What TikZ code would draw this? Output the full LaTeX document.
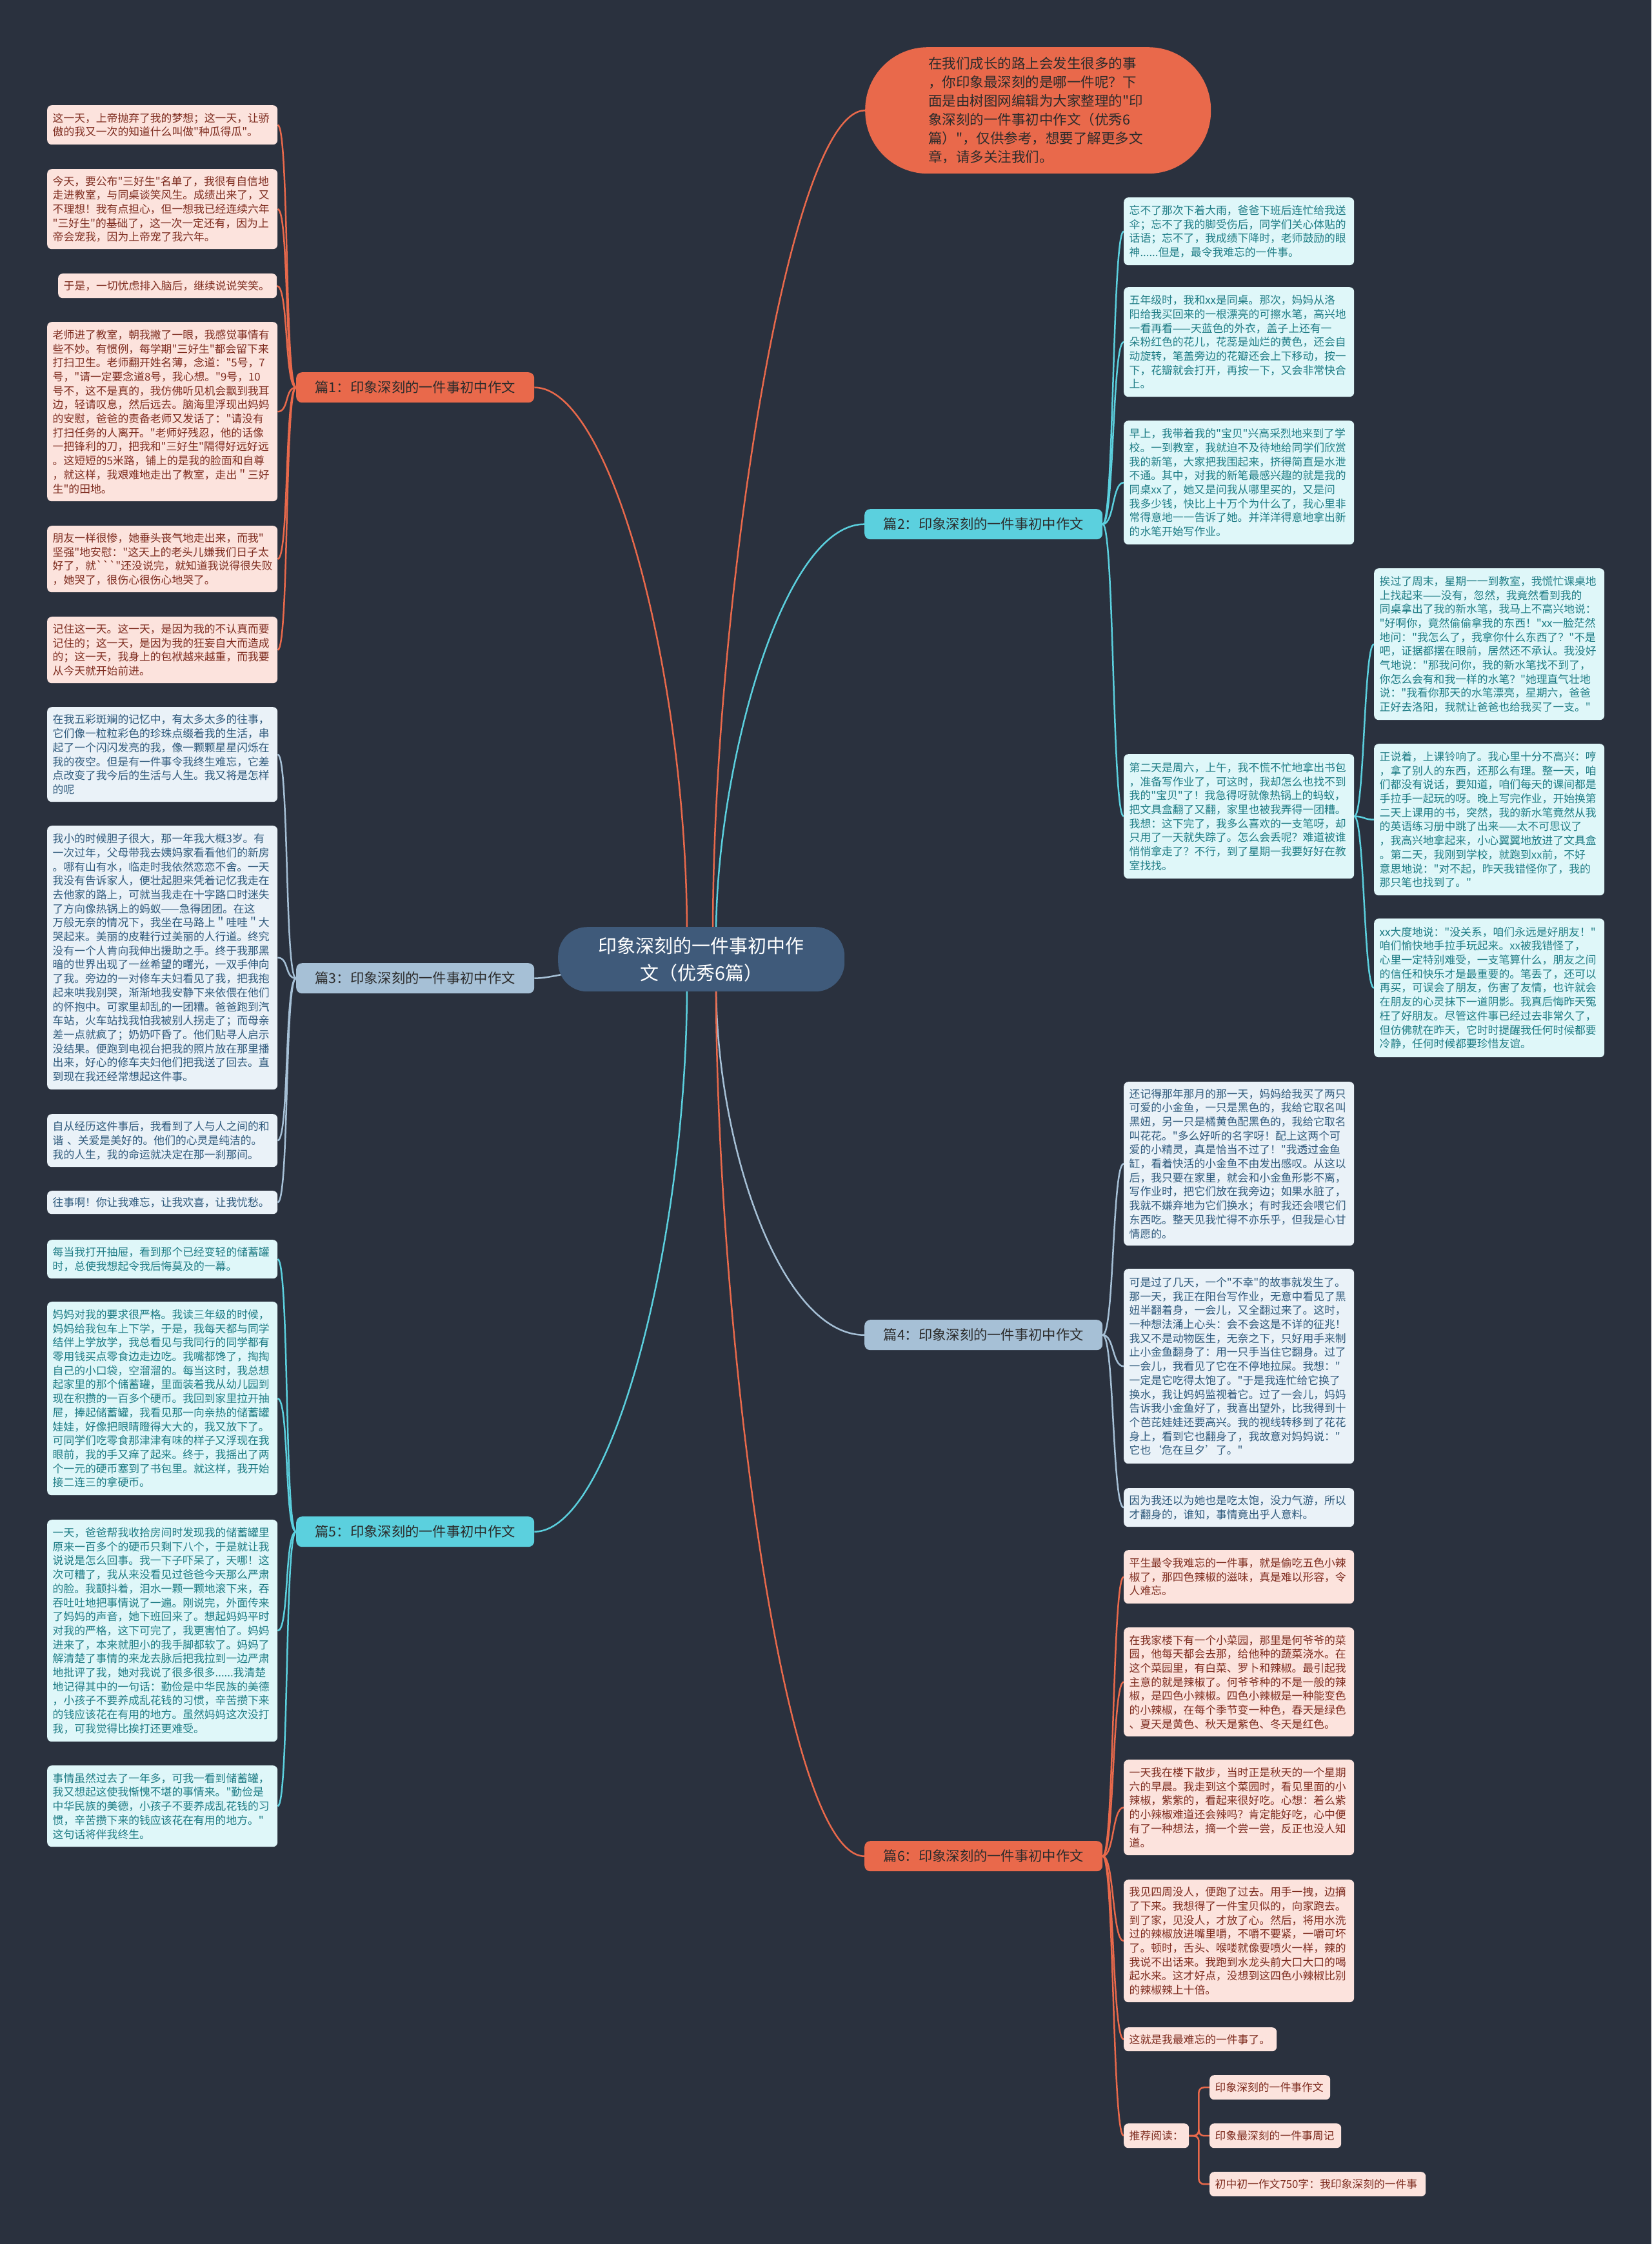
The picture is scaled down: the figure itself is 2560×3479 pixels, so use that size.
\documentclass[tikz,border=0pt]{standalone}
\usepackage{fontspec}
\setmainfont{Noto Sans CJK SC}[Ligatures=TeXOff]
\usetikzlibrary{calc}
\pgfdeclarelayer{back}
\pgfdeclarelayer{lines}
\pgfsetlayers{back,lines,main}
\definecolor{bgc}{HTML}{2A313E}
\definecolor{orn}{HTML}{E9694B}
\definecolor{lofill}{HTML}{FCE3DD}
\definecolor{lotext}{HTML}{7E2C1F}
\definecolor{cyn}{HTML}{5BD0DE}
\definecolor{lcfill}{HTML}{DFF7F9}
\definecolor{lctext}{HTML}{1E7C85}
\definecolor{stl}{HTML}{A6C0D6}
\definecolor{lbfill}{HTML}{EAF2F8}
\definecolor{lbtext}{HTML}{2F5A7C}
\definecolor{ctrfill}{HTML}{3F5A7A}
\definecolor{labtext}{HTML}{2B2B2B}
\tikzset{
  leaf/.style={anchor=north west, rounded corners=7pt, inner xsep=8.5pt, inner ysep=3pt, align=left, font=\fontsize{16.8}{21.7}\selectfont},
  lo/.style={leaf, fill=lofill, text=lotext},
  lb/.style={leaf, fill=lbfill, text=lbtext},
  lc/.style={leaf, fill=lcfill, text=lctext},
  std/.style={text width=340pt},
  lab/.style={anchor=north west, rounded corners=9pt, minimum width=369pt, minimum height=47pt, inner sep=0pt, font=\fontsize{21.3}{25}\selectfont, text=labtext},
  con/.style={line width=2.5pt},
}
\begin{document}
\begin{tikzpicture}[x=1pt,y=-1pt]
\begin{pgfonlayer}{back}
\fill[bgc] (0,0) rectangle (2560,3479);
\end{pgfonlayer}
\useasboundingbox (0,0) rectangle (2560,3479);

% center and intro
\node[anchor=north west, minimum width=444pt, minimum height=100pt, rounded corners=45pt, fill=ctrfill, text=white, align=center, inner sep=0pt, font=\fontsize{29}{42}\selectfont] (ctr) at (865,1437) {印象深刻的一件事初中作\\文（优秀6篇）};
\node[anchor=north west, minimum height=196pt, rounded corners=97pt, fill=orn, text=labtext, align=left, text width=340pt, inner xsep=98pt, inner ysep=0pt, font=\fontsize{21.5}{29}\selectfont] (intro) at (1341,73) {在我们成长的路上会发生很多的事\\，你印象最深刻的是哪一件呢？下\\面是由树图网编辑为大家整理的"印\\象深刻的一件事初中作文（优秀6\\篇）"，仅供参考，想要了解更多文\\章，请多关注我们。};

% branch labels
\node[lab, fill=orn] (p1) at (459,577) {篇1：印象深刻的一件事初中作文};
\node[lab, fill=cyn] (p2) at (1340,789) {篇2：印象深刻的一件事初中作文};
\node[lab, fill=stl] (p3) at (459,1493) {篇3：印象深刻的一件事初中作文};
\node[lab, fill=stl] (p4) at (1340,2046) {篇4：印象深刻的一件事初中作文};
\node[lab, fill=cyn] (p5) at (459,2351) {篇5：印象深刻的一件事初中作文};
\node[lab, fill=orn] (p6) at (1340,2854) {篇6：印象深刻的一件事初中作文};

% pian 1 leaves
\node[lo, std, minimum height=61pt] (a1) at (73,163) {这一天，上帝抛弃了我的梦想；这一天，让骄\\傲的我又一次的知道什么叫做"种瓜得瓜"。};
\node[lo, std, minimum height=124pt] (a2) at (73,262) {今天，要公布"三好生"名单了，我很有自信地\\走进教室，与同桌谈笑风生。成绩出来了，又\\不理想！我有点担心，但一想我已经连续六年\\"三好生"的基础了，这一次一定还有，因为上\\帝会宠我，因为上帝宠了我六年。};
\node[lo, text width=322pt, minimum height=38pt] (a3) at (90,424) {于是，一切忧虑排入脑后，继续说说笑笑。};
\node[lo, std, minimum height=278pt] (a4) at (73,499) {老师进了教室，朝我撇了一眼，我感觉事情有\\些不妙。有惯例，每学期"三好生"都会留下来\\打扫卫生。老师翻开姓名薄，念道："5号，7\\号，"请一定要念道8号，我心想。"9号，10\\号不，这不是真的，我仿佛听见机会飘到我耳\\边，轻请叹息，然后远去。脑海里浮现出妈妈\\的安慰，爸爸的责备老师又发话了："请没有\\打扫任务的人离开。"老师好残忍，他的话像\\一把锋利的刀，把我和"三好生"隔得好远好远\\。这短短的5米路，铺上的是我的脸面和自尊\\，就这样，我艰难地走出了教室，走出＂三好\\生"的田地。};
\node[lo, std, minimum height=103pt] (a5) at (73,815) {朋友一样很惨，她垂头丧气地走出来，而我"\\坚强"地安慰："这天上的老头儿嫌我们日子太\\好了，就```"还没说完，就知道我说得很失败\\，她哭了，很伤心很伤心地哭了。};
\node[lo, std, minimum height=103pt] (a6) at (73,956) {记住这一天。这一天，是因为我的不认真而要\\记住的；这一天，是因为我的狂妄自大而造成\\的；这一天，我身上的包袱越来越重，而我要\\从今天就开始前进。};

% pian 3 leaves
\node[lb, std, minimum height=147pt] (b1) at (73,1096) {在我五彩斑斓的记忆中，有太多太多的往事，\\它们像一粒粒彩色的珍珠点缀着我的生活，串\\起了一个闪闪发亮的我，像一颗颗星星闪烁在\\我的夜空。但是有一件事令我终生难忘，它差\\点改变了我今后的生活与人生。我又将是怎样\\的呢};
\node[lb, std, minimum height=409pt] (b2) at (73,1280) {我小的时候胆子很大，那一年我大概3岁。有\\一次过年，父母带我去姨妈家看看他们的新房\\。哪有山有水，临走时我依然恋恋不舍。一天\\我没有告诉家人，便壮起胆来凭着记忆我走在\\去他家的路上，可就当我走在十字路口时迷失\\了方向像热锅上的蚂蚁——急得团团。在这\\万般无奈的情况下，我坐在马路上＂哇哇＂大\\哭起来。美丽的皮鞋行过美丽的人行道。终究\\没有一个人肯向我伸出援助之手。终于我那黑\\暗的世界出现了一丝希望的曙光，一双手伸向\\了我。旁边的一对修车夫妇看见了我，把我抱\\起来哄我别哭，渐渐地我安静下来依偎在他们\\的怀抱中。可家里却乱的一团糟。爸爸跑到汽\\车站，火车站找我怕我被别人拐走了；而母亲\\差一点就疯了；奶奶吓昏了。他们贴寻人启示\\没结果。便跑到电视台把我的照片放在那里播\\出来，好心的修车夫妇他们把我送了回去。直\\到现在我还经常想起这件事。};
\node[lb, std, minimum height=82pt] (b3) at (73,1727) {自从经历这件事后，我看到了人与人之间的和\\谐 、关爱是美好的。他们的心灵是纯洁的。\\我的人生，我的命运就决定在那一刹那间。};
\node[lb, std, minimum height=36pt] (b4) at (73,1846) {往事啊！你让我难忘，让我欢喜，让我忧愁。};

% pian 5 leaves
\node[lc, std, minimum height=60pt] (c1) at (73,1922) {每当我打开抽屉，看到那个已经变轻的储蓄罐\\时，总使我想起令我后悔莫及的一幕。};
\node[lc, std, minimum height=300pt] (c2) at (73,2018) {妈妈对我的要求很严格。我读三年级的时候，\\妈妈给我包车上下学，于是，我每天都与同学\\结伴上学放学，我总看见与我同行的同学都有\\零用钱买点零食边走边吃。我嘴都馋了，掏掏\\自己的小口袋，空溜溜的。每当这时，我总想\\起家里的那个储蓄罐，里面装着我从幼儿园到\\现在积攒的一百多个硬币。我回到家里拉开抽\\屉，捧起储蓄罐，我看见那一向亲热的储蓄罐\\娃娃，好像把眼睛瞪得大大的，我又放下了。\\可同学们吃零食那津津有味的样子又浮现在我\\眼前，我的手又痒了起来。终于，我摇出了两\\个一元的硬币塞到了书包里。就这样，我开始\\接二连三的拿硬币。};
\node[lc, std, minimum height=344pt] (c3) at (73,2356) {一天，爸爸帮我收拾房间时发现我的储蓄罐里\\原来一百多个的硬币只剩下八个，于是就让我\\说说是怎么回事。我一下子吓呆了，天哪！这\\次可糟了，我从来没看见过爸爸今天那么严肃\\的脸。我颤抖着，泪水一颗一颗地滚下来，吞\\吞吐吐地把事情说了一遍。刚说完，外面传来\\了妈妈的声音，她下班回来了。想起妈妈平时\\对我的严格，这下可完了，我更害怕了。妈妈\\进来了，本来就胆小的我手脚都软了。妈妈了\\解清楚了事情的来龙去脉后把我拉到一边严肃\\地批评了我，她对我说了很多很多......我清楚\\地记得其中的一句话：勤俭是中华民族的美德\\，小孩子不要养成乱花钱的习惯，辛苦攒下来\\的钱应该花在有用的地方。虽然妈妈这次没打\\我，可我觉得比挨打还更难受。};
\node[lc, std, minimum height=126pt] (c4) at (73,2737) {事情虽然过去了一年多，可我一看到储蓄罐，\\我又想起这使我惭愧不堪的事情来。"勤俭是\\中华民族的美德，小孩子不要养成乱花钱的习\\惯，辛苦攒下来的钱应该花在有用的地方。"\\这句话将伴我终生。};

% pian 2 leaves
\node[lc, std, minimum height=105pt] (d1) at (1742,306) {忘不了那次下着大雨，爸爸下班后连忙给我送\\伞；忘不了我的脚受伤后，同学们关心体贴的\\话语；忘不了，我成绩下降时，老师鼓励的眼\\神......但是，最令我难忘的一件事。};
\node[lc, std, minimum height=170pt] (d2) at (1742,445) {五年级时，我和xx是同桌。那次，妈妈从洛\\阳给我买回来的一根漂亮的可擦水笔，高兴地\\一看再看——天蓝色的外衣，盖子上还有一\\朵粉红色的花儿，花蕊是灿烂的黄色，还会自\\动旋转，笔盖旁边的花瓣还会上下移动，按一\\下，花瓣就会打开，再按一下，又会非常快合\\上。};
\node[lc, std, minimum height=192pt] (d3) at (1742,652) {早上，我带着我的"宝贝"兴高采烈地来到了学\\校。一到教室，我就迫不及待地给同学们欣赏\\我的新笔，大家把我围起来，挤得简直是水泄\\不通。其中，对我的新笔最感兴趣的就是我的\\同桌xx了，她又是问我从哪里买的，又是问\\我多少钱，快比上十万个为什么了，我心里非\\常得意地一一告诉了她。并洋洋得意地拿出新\\的水笔开始写作业。};
\node[lc, std, minimum height=193pt] (d4) at (1742,1169) {第二天是周六，上午，我不慌不忙地拿出书包\\，准备写作业了，可这时，我却怎么也找不到\\我的"宝贝"了！我急得呀就像热锅上的蚂蚁，\\把文具盒翻了又翻，家里也被我弄得一团糟。\\我想：这下完了，我多么喜欢的一支笔呀，却\\只用了一天就失踪了。怎么会丢呢？难道被谁\\悄悄拿走了？不行，到了星期一我要好好在教\\室找找。};

% far right leaves
\node[lc, std, minimum height=235pt] (e1) at (2130,881) {挨过了周末，星期一一到教室，我慌忙课桌地\\上找起来——没有，忽然，我竟然看到我的\\同桌拿出了我的新水笔，我马上不高兴地说：\\"好啊你，竟然偷偷拿我的东西！"xx一脸茫然\\地问："我怎么了，我拿你什么东西了？"不是\\吧，证据都摆在眼前，居然还不承认。我没好\\气地说："那我问你，我的新水笔找不到了，\\你怎么会有和我一样的水笔？"她理直气壮地\\说："我看你那天的水笔漂亮，星期六，爸爸\\正好去洛阳，我就让爸爸也给我买了一支。"};
\node[lc, std, minimum height=235pt] (e2) at (2130,1153) {正说着，上课铃响了。我心里十分不高兴：哼\\，拿了别人的东西，还那么有理。整一天，咱\\们都没有说话，要知道，咱们每天的课间都是\\手拉手一起玩的呀。晚上写完作业，开始换第\\二天上课用的书，突然，我的新水笔竟然从我\\的英语练习册中跳了出来——太不可思议了\\，我高兴地拿起来，小心翼翼地放进了文具盒\\。第二天，我刚到学校，就跑到xx前，不好\\意思地说："对不起，昨天我错怪你了，我的\\那只笔也找到了。"};
\node[lc, std, minimum height=215pt] (e3) at (2130,1424) {xx大度地说："没关系，咱们永远是好朋友！"\\咱们愉快地手拉手玩起来。xx被我错怪了，\\心里一定特别难受，一支笔算什么，朋友之间\\的信任和快乐才是最重要的。笔丢了，还可以\\再买，可误会了朋友，伤害了友情，也许就会\\在朋友的心灵抹下一道阴影。我真后悔昨天冤\\枉了好朋友。尽管这件事已经过去非常久了，\\但仿佛就在昨天，它时时提醒我任何时候都要\\冷静，任何时候都要珍惜友谊。};

% pian 4 leaves
\node[lb, std, minimum height=254pt] (f1) at (1742,1677) {还记得那年那月的那一天，妈妈给我买了两只\\可爱的小金鱼，一只是黑色的，我给它取名叫\\黑妞，另一只是橘黄色配黑色的，我给它取名\\叫花花。"多么好听的名字呀！配上这两个可\\爱的小精灵，真是恰当不过了！"我透过金鱼\\缸，看着快活的小金鱼不由发出感叹。从这以\\后，我只要在家里，就会和小金鱼形影不离，\\写作业时，把它们放在我旁边；如果水脏了，\\我就不嫌弃地为它们换水；有时我还会喂它们\\东西吃。整天见我忙得不亦乐乎，但我是心甘\\情愿的。};
\node[lb, std, minimum height=302pt] (f2) at (1742,1967) {可是过了几天，一个"不幸"的故事就发生了。\\那一天，我正在阳台写作业，无意中看见了黑\\妞半翻着身，一会儿，又全翻过来了。这时，\\一种想法涌上心头：会不会这是不详的征兆！\\我又不是动物医生，无奈之下，只好用手来制\\止小金鱼翻身了：用一只手当住它翻身。过了\\一会儿，我看见了它在不停地拉屎。我想："\\一定是它吃得太饱了。"于是我连忙给它换了\\换水，我让妈妈监视着它。过了一会儿，妈妈\\告诉我小金鱼好了，我喜出望外，比我得到十\\个芭芘娃娃还要高兴。我的视线转移到了花花\\身上，看到它也翻身了，我故意对妈妈说："\\它也‘危在旦夕’了。"};
\node[lb, std, minimum height=60pt] (f3) at (1742,2307) {因为我还以为她也是吃太饱，没力气游，所以\\才翻身的，谁知，事情竟出乎人意料。};

% pian 6 leaves
\node[lo, std, minimum height=83pt] (g1) at (1742,2403) {平生最令我难忘的一件事，就是偷吃五色小辣\\椒了，那四色辣椒的滋味，真是难以形容，令\\人难忘。};
\node[lo, std, minimum height=169pt] (g2) at (1742,2523) {在我家楼下有一个小菜园，那里是何爷爷的菜\\园，他每天都会去那，给他种的蔬菜浇水。在\\这个菜园里，有白菜、罗卜和辣椒。最引起我\\主意的就是辣椒了。何爷爷种的不是一般的辣\\椒，是四色小辣椒。四色小辣椒是一种能变色\\的小辣椒，在每个季节变一种色，春天是绿色\\、夏天是黄色、秋天是紫色、冬天是红色。};
\node[lo, std, minimum height=148pt] (g3) at (1742,2728) {一天我在楼下散步，当时正是秋天的一个星期\\六的早晨。我走到这个菜园时，看见里面的小\\辣椒，紫紫的，看起来很好吃。心想：着么紫\\的小辣椒难道还会辣吗？肯定能好吃，心中便\\有了一种想法，摘一个尝一尝，反正也没人知\\道。};
\node[lo, std, minimum height=190pt] (g4) at (1742,2914) {我见四周没人，便跑了过去。用手一拽，边摘\\了下来。我想得了一件宝贝似的，向家跑去。\\到了家，见没人，才放了心。然后，将用水洗\\过的辣椒放进嘴里嚼，不嚼不要紧，一嚼可坏\\了。顿时，舌头、喉喽就像要喷火一样，辣的\\我说不出话来。我跑到水龙头前大口大口的喝\\起水来。这才好点，没想到这四色小辣椒比别\\的辣椒辣上十倍。};
\node[lo, text width=220pt, minimum height=37pt] (g5) at (1742,3143) {这就是我最难忘的一件事了。};
\node[lo, text width=84pt, minimum height=38pt] (rec) at (1742,3292) {推荐阅读：};
\node[lo, text width=170pt, minimum height=38pt] (r1) at (1875,3217) {印象深刻的一件事作文};
\node[lo, text width=187pt, minimum height=38pt] (r2) at (1875,3292) {印象最深刻的一件事周记};
\node[lo, text width=318pt, minimum height=38pt] (r3) at (1875,3367) {初中初一作文750字：我印象深刻的一件事};

\begin{pgfonlayer}{lines}
% center connectors
\draw[con, orn] (1105,1450) .. controls +(0,-500) and +(-120,0) .. (intro.west);
\draw[con, orn] (1065,1450) .. controls +(0,-400) and +(120,0) .. (p1.east);
\draw[con, cyn] (1110,1450) .. controls +(0,-250) and +(-130,0) .. (p2.west);
\draw[con, stl] (ctr.center) .. controls +(-150,0) and +(40,0) .. (p3.east);
\draw[con, stl] (1110,1525) .. controls +(0,250) and +(-130,0) .. (p4.west);
\draw[con, cyn] (1065,1525) .. controls +(0,400) and +(120,0) .. (p5.east);
\draw[con, orn] (1110,1525) .. controls +(0,500) and +(-130,0) .. (p6.west);
% pian 1
\foreach \n in {a1,a2,a3,a4,a5,a6}
  \draw[con, orn] (p1.west) .. controls +(-18,0) and +(18,0) .. (\n.east);
% pian 3
\foreach \n in {b1,b2,b3,b4}
  \draw[con, stl] (p3.west) .. controls +(-18,0) and +(18,0) .. (\n.east);
% pian 5
\foreach \n in {c1,c2,c3,c4}
  \draw[con, cyn] (p5.west) .. controls +(-18,0) and +(18,0) .. (\n.east);
% pian 2
\foreach \n in {d1,d2,d3,d4}
  \draw[con, cyn] (p2.east) .. controls +(18,0) and +(-18,0) .. (\n.west);
\foreach \n in {e1,e2,e3}
  \draw[con, cyn] (d4.east) .. controls +(16,0) and +(-16,0) .. (\n.west);
% pian 4
\foreach \n in {f1,f2,f3}
  \draw[con, stl] (p4.east) .. controls +(18,0) and +(-18,0) .. (\n.west);
% pian 6
\foreach \n in {g1,g2,g3,g4,g5,rec}
  \draw[con, orn] (p6.east) .. controls +(18,0) and +(-18,0) .. (\n.west);
\foreach \n in {r1,r2,r3}
  \draw[con, orn, rounded corners=8pt] (rec.east) -- ++(15,0) |- (\n.west);
\end{pgfonlayer}
\end{tikzpicture}
\end{document}
